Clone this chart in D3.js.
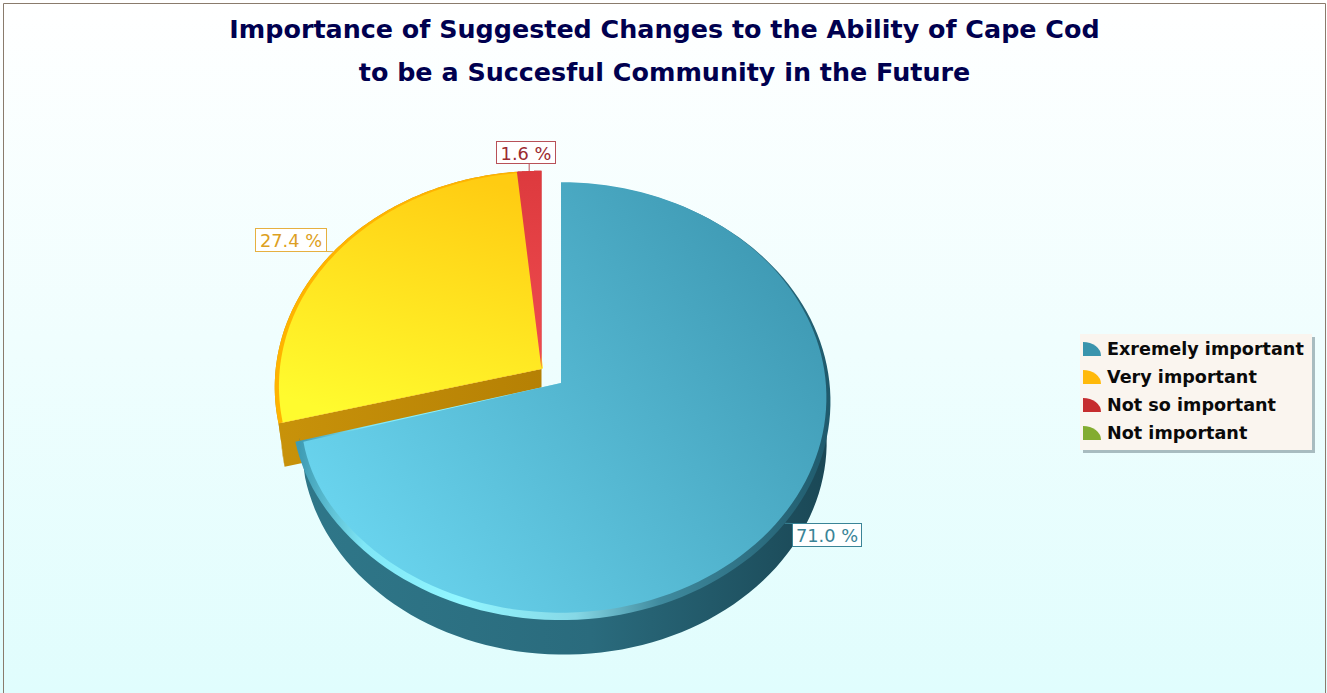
<!DOCTYPE html>
<html>
<head>
<meta charset="utf-8">
<script src="https://cdn.jsdelivr.net/npm/d3@7"></script>
<style>
  html, body { margin: 0; padding: 0; background: #fff; overflow: hidden; }
  text { font-family: "DejaVu Sans", Verdana, sans-serif; }
</style>
</head>
<body>
<div id="chart"></div>
<script>
(function () {
  'use strict';

  var categories = ["Exremely important", "Very important", "Not so important", "Not important"];
  var values = [71.0, 27.4, 1.6, 0];
  var labels = ["71.0 %", "27.4 %", "1.6 %"];
  var titleLines = [
    "Importance of Suggested Changes to the Ability of Cape Cod",
    "to be a Succesful Community in the Future"
  ];
  var legendColors = ["#3a94ad", "#ffb90a", "#c62c2e", "#83ac30"];

  var W = 1327, H = 693;
  var cx = 561, cy = 383;      // where the pie apex lands on the page
  var A = 268.5, B = 217, K = 0.0847; // tilted disc, near edge is bigger

  var svg = d3.select("#chart").append("svg").attr("width", W).attr("height", H);
  var defs = svg.append("defs");

  function grad(id, x1, y1, x2, y2, stops) {
    var g = defs.append("linearGradient").attr("id", id)
      .attr("gradientUnits", "userSpaceOnUse")
      .attr("x1", x1).attr("y1", y1).attr("x2", x2).attr("y2", y2);
    stops.forEach(function (s) {
      g.append("stop").attr("offset", s[0]).attr("stop-color", s[1]);
    });
  }

  grad("bg", 0, 0, 0, H, [[0, "#ffffff"], [1, "#e0fdfd"]]);
  grad("faceBlue", 340, 560, 760, 230, [[0, "#6bd6f0"], [1, "#3f9ab4"]]);
  grad("rimBlue", 300, 0, 830, 0, [[0, "#3f9cb4"], [0.12, "#7fe6f6"], [0.3, "#92f6ff"], [0.52, "#86d8e6"], [0.68, "#3f8a9e"], [1, "#1f5a6c"]]);
  grad("wallBlue", 300, 0, 830, 0, [[0, "#2f7789"], [0.55, "#2a6b7d"], [1, "#1a4755"]]);
  grad("faceYellow", 390, 430, 470, 175, [[0, "#fffb2e"], [1, "#ffcc12"]]);
  grad("faceRed", 0, 172, 0, 372, [[0, "#dd3a3e"], [1, "#f04c50"]]);
  grad("wallYellow", 280, 0, 545, 0, [[0, "#c8920a"], [1, "#b58004"]]);

  svg.append("rect").attr("width", W).attr("height", H).attr("fill", "url(#bg)");
  svg.append("path")
    .attr("d", "M3.5," + H + "V3.5H1325.5V" + H)
    .attr("fill", "none").attr("stroke", "#8a7b6c");

  svg.selectAll(".title").data(titleLines).enter().append("text")
    .attr("class", "title")
    .attr("x", 664.5)
    .attr("y", function (d, i) { return 38 + i * 43; })
    .attr("text-anchor", "middle")
    .attr("font-size", 25.4)
    .attr("font-weight", "bold")
    .attr("fill", "#00004f")
    .text(function (d) { return d; });

  var arcs = d3.pie().sort(null).value(function (d) { return d; })(values);
  var offsets = [[0, 0], [-19.5, -14], [-19.5, -14], [0, 0]];

  // one point on the tilted disc
  function project(a, r, off, shift) {
    var u = r * Math.sin(a), v = -r * Math.cos(a), w = 1 - K * v;
    var s = shift ? shift(a) : [0, 0];
    return [cx + off[0] + s[0] + A * u / w, cy + off[1] + s[1] + B * v / w];
  }

  var line = d3.line();

  function rim(a0, a1, r, off, shift) {
    return d3.range(0, 121).map(function (i) {
      return project(a0 + (a1 - a0) * i / 120, r, off, shift);
    });
  }

  function sector(a0, a1, r, off, shift) {
    var apex = [cx + off[0], cy + off[1]];
    return line([apex].concat(rim(a0, a1, r, off, shift))) + "Z";
  }

  function wall(a0, a1, r, rBottom, off, drop) {
    var top = rim(a0, a1, r, off);
    var bottom = rim(a0, a1, rBottom, off, function () { return drop; }).reverse();
    return line(top.concat(bottom)) + "Z";
  }

  var g = svg.append("g");
  var blue = arcs[0], yellow = arcs[1], red = arcs[2];
  var yo = offsets[1], yr = 0.99;
  var yellowDrop = [2, 44], blueDrop = [3, 41];

  // yellow and red sit behind the blue slice
  g.append("path").attr("d", wall(yellow.startAngle, yellow.endAngle, yr, yr * 0.985, yo, yellowDrop)).attr("fill", "#c8920a");
  g.append("path")
    .attr("d", line([
      [cx + yo[0], cy + yo[1]],
      project(yellow.startAngle, yr, yo),
      project(yellow.startAngle, yr * 0.985, yo, function () { return yellowDrop; }),
      [cx + yo[0], cy + yo[1] + yellowDrop[1]]
    ]) + "Z")
    .attr("fill", "url(#wallYellow)");

  g.append("path").attr("d", sector(yellow.startAngle, yellow.endAngle, yr, yo)).attr("fill", "#ffb400");
  g.append("path").attr("d", sector(red.startAngle, red.endAngle, yr, offsets[2])).attr("fill", "#c9343a");
  g.append("path").attr("d", sector(yellow.startAngle, yellow.endAngle, yr - 0.01, [yo[0] + 1.5, yo[1] - 0.5])).attr("fill", "url(#faceYellow)");
  g.append("path").attr("d", sector(red.startAngle, red.endAngle, yr, offsets[2])).attr("fill", "url(#faceRed)");

  // the blue rim and face drop slightly near their cut end
  function nearEnd(a) {
    return Math.max(0, Math.min(1, 1 - (blue.endAngle - a) / 0.45));
  }
  function rimShift(a) { return [0, 3.5 * nearEnd(a)]; }
  function faceShift(a) {
    var t = nearEnd(a);
    return [4 * t, -3.5 + 8 * t];
  }

  g.append("path").attr("d", wall(blue.startAngle, blue.endAngle, 0.985, 0.975, offsets[0], blueDrop)).attr("fill", "url(#wallBlue)");
  g.append("path").attr("d", sector(blue.startAngle, blue.endAngle, 1, offsets[0], rimShift)).attr("fill", "url(#rimBlue)");
  g.append("path").attr("d", sector(blue.startAngle, blue.endAngle, 0.985, offsets[0], faceShift)).attr("fill", "url(#faceBlue)");

  // value labels with their small leaders
  var labelBoxes = [
    {dx: 7.5, dy: 0, w: 69, h: 23, stroke: "#3a8497", color: "#3a8497"},
    {dx: -78.5, dy: -24, w: 71, h: 23, stroke: "#e6b040", color: "#dd9f22"},
    {dx: -33, dy: -30, w: 59, h: 22, stroke: "#b85158", color: "#9c2a30"}
  ];
  labelBoxes.forEach(function (b, i) {
    var mid = (arcs[i].startAngle + arcs[i].endAngle) / 2;
    var p = project(mid, i ? yr : 1, offsets[i]);
    var bx = Math.round(p[0] + b.dx) + 0.5, by = Math.round(p[1] + b.dy) + 0.5;
    var ex = i === 0 ? bx : (i === 1 ? bx + b.w : p[0]);
    var ey = i === 0 ? by : by + b.h;
    g.append("line").attr("x1", p[0]).attr("y1", p[1]).attr("x2", ex).attr("y2", ey)
      .attr("stroke", b.stroke);
    g.append("rect").attr("x", bx).attr("y", by).attr("width", b.w).attr("height", b.h)
      .attr("fill", "#fff").attr("stroke", b.stroke);
    g.append("text").attr("x", bx + b.w / 2).attr("y", by + 18)
      .attr("text-anchor", "middle").attr("font-size", 17.8)
      .attr("fill", b.color).text(labels[i]);
  });

  // legend
  var lx = 1080, ly = 334, lw = 232, lh = 116, rowH = 28;
  var legend = svg.append("g");
  legend.append("rect").attr("x", lx + 3).attr("y", ly + 3).attr("width", lw).attr("height", lh).attr("fill", "#a8bcc0");
  legend.append("rect").attr("x", lx).attr("y", ly).attr("width", lw).attr("height", lh).attr("fill", "#faf5ef");

  var wedge = d3.arc().innerRadius(0).outerRadius(18).startAngle(0).endAngle(Math.PI / 2);
  var row = legend.selectAll(".row").data(categories).enter().append("g")
    .attr("class", "row")
    .attr("transform", function (d, i) { return "translate(" + (lx + 3) + "," + (ly + 22 + i * rowH) + ")"; });
  row.append("path")
    .attr("d", wedge)
    .attr("transform", "scale(1,0.78)")
    .attr("fill", function (d, i) { return legendColors[i]; });
  row.append("text")
    .attr("x", 24).attr("y", -1)
    .attr("font-size", 17.6).attr("font-weight", "bold").attr("fill", "#0a0a0a")
    .text(function (d) { return d; });
})();
</script>
</body>
</html>
